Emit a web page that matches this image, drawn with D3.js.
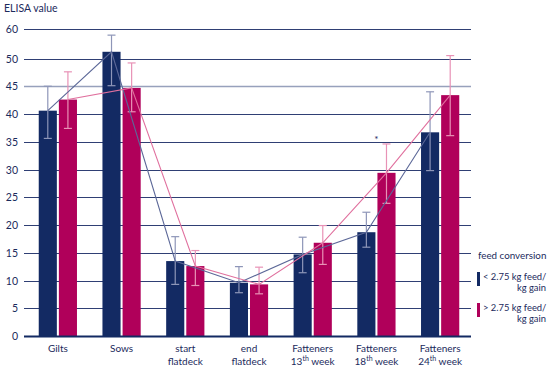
<!DOCTYPE html>
<html>
<head>
<meta charset="utf-8">
<script src="https://cdn.jsdelivr.net/npm/d3@7"></script>
<style>
  body { margin: 0; background: #fff; }
  svg text { font-family: Lato, "Open Sans", sans-serif; fill: #1b2a5c; }
</style>
</head>
<body>
<svg id="chart" width="550" height="369"></svg>
<script>
// categories (two text lines each)
var labelTop = ["Gilts", "Sows", "start", "end", "Fatteners", "Fatteners", "Fatteners"];
var labelBottom = ["", "", "flatdeck", "flatdeck", "13th week", "18th week", "24th week"];
var categories = labelTop.map(function(d, i) { return d + " " + labelBottom[i]; });

// < 2.75 kg feed/kg gain
var lowValues = [40.6, 52.3, 13.5, 9.6, 14.7, 18.7, 36.7];
var lowErrTop = [45.0, 58.0, 17.9, 12.5, 17.8, 22.3, 44.0];
var lowErrBottom = [35.6, 45.1, 9.3, 7.8, 11.4, 16.0, 29.8];

// > 2.75 kg feed/kg gain
var highValues = [42.6, 44.7, 12.6, 9.3, 16.8, 29.4, 43.4];
var highErrTop = [47.6, 49.2, 15.4, 12.4, 19.9, 34.6, 51.0];
var highErrBottom = [37.4, 40.4, 9.1, 7.6, 12.9, 23.9, 36.1];

var seriesNames = ["< 2.75 kg feed/|kg gain", "> 2.75 kg feed/|kg gain"];
var yTicks = [0, 5, 10, 15, 20, 25, 30, 35, 40, 45, 50, 60];

var navy = "#132a63",
    magenta = "#b0005a";

var svg = d3.select("#chart");

var x = d3.scaleBand().domain(categories).range([26, 472])
          .paddingInner(0.4).paddingOuter(0.2);
var xSub = d3.scaleBand().domain([0, 1]).range([0, x.bandwidth()]).paddingInner(0.1);
// axis as printed: 50 -> 60 takes half the space of the other steps
var y = d3.scaleLinear().domain([0, 50, 60]).range([336, 58.5, 29.3]);

// gridlines
svg.append("g").selectAll("line").data(yTicks.filter(function(d) { return d > 0; }))
  .enter().append("line")
  .attr("x1", 24).attr("x2", 471)
  .attr("y1", function(d) { return Math.round(y(d)) + 0.5; })
  .attr("y2", function(d) { return Math.round(y(d)) + 0.5; })
  .attr("stroke", function(d) { return d === 45 ? "#97a1bc" : "#2f3f74"; })
  .attr("stroke-width", function(d) { return d === 45 ? 1.7 : 1; });

// y tick labels
svg.append("g").selectAll("text").data(yTicks).enter().append("text")
  .attr("x", 18).attr("y", function(d) { return y(d) + 4; })
  .attr("text-anchor", "end").style("font-size", "10.5px")
  .text(function(d) { return d; });

svg.append("text").attr("x", 4).attr("y", 12).style("font-size", "10.5px").text("ELISA value");

var series = [
  {vals: lowValues, top: lowErrTop, bot: lowErrBottom, color: navy, err: "#8e96b8", line: "#5c6898"},
  {vals: highValues, top: highErrTop, bot: highErrBottom, color: magenta, err: "#e892b6", line: "#e0709e"}
];

// bars
series.forEach(function(s, si) {
  svg.append("g").selectAll("rect").data(s.vals).enter().append("rect")
    .attr("x", function(d, i) { return x(categories[i]) + xSub(si); })
    .attr("width", xSub.bandwidth())
    .attr("y", function(d) { return y(d); })
    .attr("height", function(d) { return y(0) - y(d); })
    .attr("fill", s.color);
});

// axis line
svg.append("line").attr("x1", 24).attr("x2", 471).attr("y1", 336.5).attr("y2", 336.5)
  .attr("stroke", navy).attr("stroke-width", 2);

// error bars
series.forEach(function(s, si) {
  var g = svg.append("g").attr("stroke", s.err).attr("stroke-width", 1.2);
  s.vals.forEach(function(d, i) {
    var cx = x(categories[i]) + xSub(si) + xSub.bandwidth() / 2;
    g.append("line").attr("x1", cx).attr("x2", cx).attr("y1", y(s.top[i])).attr("y2", y(s.bot[i]));
    g.append("line").attr("x1", cx - 4).attr("x2", cx + 4).attr("y1", y(s.top[i])).attr("y2", y(s.top[i]));
    g.append("line").attr("x1", cx - 4).attr("x2", cx + 4).attr("y1", y(s.bot[i])).attr("y2", y(s.bot[i]));
  });
});

// connecting lines
series.forEach(function(s, si) {
  var line = d3.line()
    .x(function(d, i) { return x(categories[i]) + xSub(si) + xSub.bandwidth() / 2; })
    .y(function(d) { return y(d); });
  svg.append("path").datum(s.vals).attr("d", line)
    .attr("fill", "none").attr("stroke", s.line).attr("stroke-width", 1.1);
});

// significance mark
svg.append("text").attr("x", x(categories[5]) + x.bandwidth() / 2).attr("y", 143)
  .attr("text-anchor", "middle").style("font-size", "10px").text("*");

// x labels
function addLabel(sel, str) {
  var m = str.match(/^(\d+)(th)(.*)$/);
  if (!m) { sel.text(str); return; }
  sel.append("tspan").text(m[1]);
  sel.append("tspan").attr("dy", -4).style("font-size", "7px").text(m[2]);
  sel.append("tspan").attr("dy", 4).text(m[3]);
}
categories.forEach(function(c, i) {
  var cx = x(c) + x.bandwidth() / 2;
  svg.append("text").attr("x", cx).attr("y", 352).attr("text-anchor", "middle")
    .style("font-size", "10px").text(labelTop[i]);
  if (labelBottom[i]) {
    addLabel(svg.append("text").attr("x", cx).attr("y", 365).attr("text-anchor", "middle")
      .style("font-size", "10px"), labelBottom[i]);
  }
});

// legend
svg.append("text").attr("x", 478).attr("y", 259).style("font-size", "9.8px").text("feed conversion");
[navy, magenta].forEach(function(col, i) {
  var y0 = 272 + i * 31;
  svg.append("rect").attr("x", 477).attr("y", y0).attr("width", 3).attr("height", 14).attr("fill", col);
  var parts = seriesNames[i].split("|");
  svg.append("text").attr("x", 483).attr("y", y0 + 8).style("font-size", "9.4px").text(parts[0]);
  svg.append("text").attr("x", 546).attr("y", y0 + 19).attr("text-anchor", "end")
    .style("font-size", "9.4px").text(parts[1]);
});
</script>
</body>
</html>
